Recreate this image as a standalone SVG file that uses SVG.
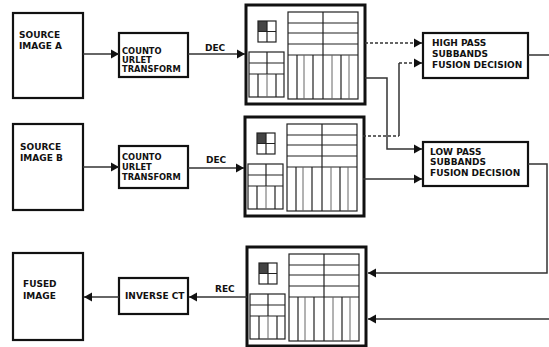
<svg xmlns="http://www.w3.org/2000/svg" xmlns:xlink="http://www.w3.org/1999/xlink" width="549" height="347" viewBox="0 0 549 347">
<style>
.box{fill:#fff;stroke:#111;stroke-width:2.2}
.t{font-family:"DejaVu Sans","Liberation Sans",sans-serif;font-weight:bold;font-size:9px;fill:#111}
.ts{font-family:"DejaVu Sans","Liberation Sans",sans-serif;font-weight:bold;font-size:8.3px;fill:#111}
.c{fill:none;stroke:#333;stroke-width:1.5}
.d{fill:none;stroke:#333;stroke-width:1.5;stroke-dasharray:3 2}
.g{fill:none;stroke:#222;stroke-width:1.2}
.gt{fill:none;stroke:#666;stroke-width:1}
</style>
<defs>
<marker id="ah" markerUnits="userSpaceOnUse" markerWidth="9" markerHeight="10" refX="8" refY="5" orient="auto">
<path d="M0,0.5 L8,5 L0,9.5 Z" fill="#111"/>
</marker>
<g id="decomp">
<rect x="0" y="0" width="119" height="99" fill="#fff" stroke="#111" stroke-width="3"/>
<rect x="12" y="16" width="9" height="10.5" fill="#444"/>
<rect x="12" y="16" width="18" height="21" class="g"/>
<path d="M21,16 V37 M12,26.5 H30" class="g"/>
<rect x="3" y="47" width="35" height="45" class="g"/>
<path d="M3,58 H38 M3,69 H38 M21,47 V69" class="g"/>
<path d="M12,69 V92 M30,69 V92" class="g"/>
<path d="M21,69 V92" class="gt"/>
<rect x="42" y="7" width="70" height="87" class="g"/>
<path d="M77,7 V50 M42,18 H112 M42,28 H112 M42,39 H112 M42,50 H112" class="g"/>
<path d="M51,50 V94 M67,50 V94 M77,50 V94 M95,50 V94" class="g"/>
<path d="M58,50 V94 M86,50 V94 M103,50 V94" class="gt"/>
</g>
</defs>
<rect width="549" height="347" fill="#fff"/>

<g id="source-a">
<rect x="13" y="13" width="70" height="85" class="box"/>
<text class="t" x="19" y="38">SOURCE</text>
<text class="t" x="19" y="49">IMAGE A</text>
</g>
<g id="ct-a">
<rect x="119" y="33" width="69" height="44" class="box"/>
<text class="ts" x="122" y="54">COUNTO</text>
<text class="ts" x="122" y="63">URLET</text>
<text class="ts" x="122" y="72">TRANSFORM</text>
</g>
<g id="decomp-a"><use xlink:href="#decomp" href="#decomp" x="246" y="5"/></g>

<g id="source-b">
<rect x="13" y="124" width="70" height="86" class="box"/>
<text class="t" x="20" y="150">SOURCE</text>
<text class="t" x="20" y="161">IMAGE B</text>
</g>
<g id="ct-b">
<rect x="119" y="146" width="69" height="42" class="box"/>
<text class="ts" x="122" y="160">COUNTO</text>
<text class="ts" x="122" y="170">URLET</text>
<text class="ts" x="122" y="180">TRANSFORM</text>
</g>
<g id="decomp-b"><use xlink:href="#decomp" href="#decomp" x="245" y="117"/></g>

<g id="high-pass">
<rect x="423" y="33" width="105" height="45" class="box"/>
<text class="t" x="432" y="46">HIGH PASS</text>
<text class="t" x="432" y="57">SUBBANDS</text>
<text class="t" x="432" y="68">FUSION DECISION</text>
</g>
<g id="low-pass">
<rect x="423" y="142" width="105" height="44" class="box"/>
<text class="t" x="430" y="155">LOW PASS</text>
<text class="t" x="430" y="165">SUBBANDS</text>
<text class="t" x="430" y="176">FUSION DECISION</text>
</g>

<g id="decomp-fused"><use xlink:href="#decomp" href="#decomp" x="247" y="247"/></g>
<g id="inverse-ct">
<rect x="119" y="278" width="69" height="36" class="box"/>
<text class="t" x="125" y="299">INVERSE CT</text>
</g>
<g id="fused">
<rect x="13" y="253" width="70" height="87" class="box"/>
<text class="t" x="23" y="287">FUSED</text>
<text class="t" x="23" y="299">IMAGE</text>
</g>

<g id="connectors">
<path d="M83,54 H119" class="c" marker-end="url(#ah)"/>
<path d="M188,54 H245" class="c" marker-end="url(#ah)"/>
<text class="t" x="205" y="51">DEC</text>
<path d="M83,167 H119" class="c" marker-end="url(#ah)"/>
<path d="M188,168 H244" class="c" marker-end="url(#ah)"/>
<text class="t" x="206" y="163">DEC</text>
<path d="M365,43 H422" class="d" marker-end="url(#ah)"/>
<path d="M363,136 H399" class="d"/>
<path d="M399,136 V63" class="c"/>
<path d="M399,63 H422" class="d" marker-end="url(#ah)"/>
<path d="M365,78 H387 V149 H422" class="c" marker-end="url(#ah)"/>
<path d="M363,179 H422" class="c" marker-end="url(#ah)"/>
<path d="M528,55 H549" class="c"/>
<path d="M528,164 H547 V273 H368" class="c" marker-end="url(#ah)"/>
<path d="M549,319 H368" class="c" marker-end="url(#ah)"/>
<path d="M247,297 H189" class="c" marker-end="url(#ah)"/>
<text class="t" x="215" y="292">REC</text>
<path d="M119,297 H84" class="c" marker-end="url(#ah)"/>
</g>
</svg>
